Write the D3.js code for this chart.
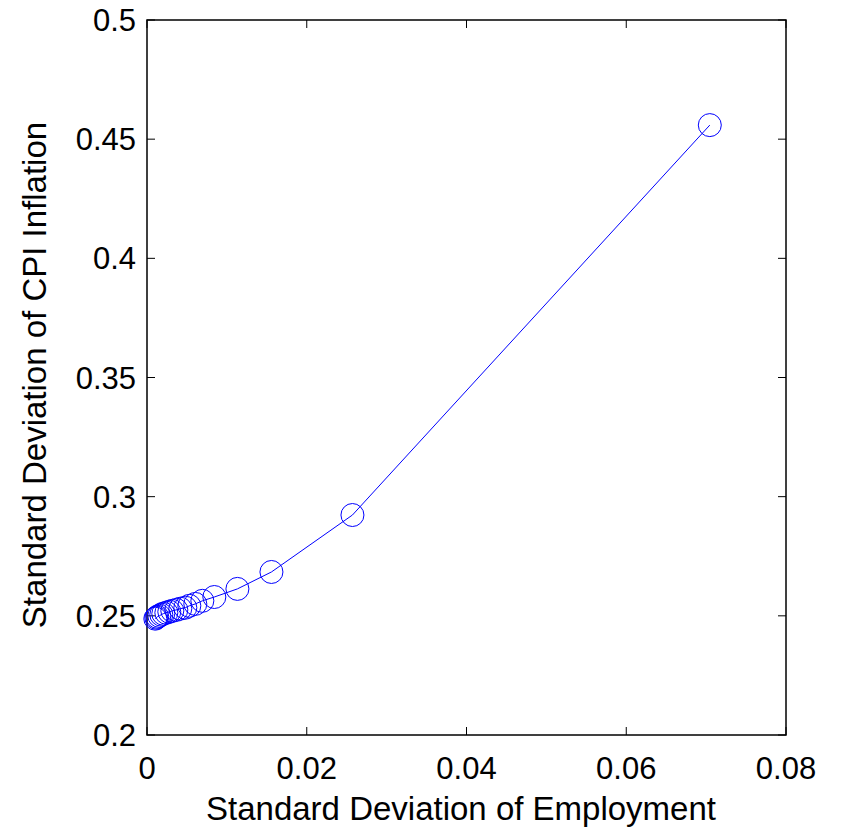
<!DOCTYPE html>
<html><head><meta charset="utf-8">
<script src="https://cdn.jsdelivr.net/npm/d3@7"></script>
<style>body{margin:0;background:#fff}svg{display:block}text{font-family:"Liberation Sans",Arial,Helvetica,sans-serif}</style>
</head><body><svg id="c" width="842" height="831"></svg>
<script>
const empStd = [0.07046,0.02572,0.01558,0.01132,0.00843,0.00693,0.00605,0.0053,0.0048,0.00417,0.00367,0.00317,0.00279,0.00242,0.00204,0.00179,0.00154,0.00129,0.00117,0.00104];
const cpiStd = [0.4559,0.2923,0.2684,0.2613,0.2579,0.2563,0.2550,0.2542,0.2534,0.2530,0.2525,0.2521,0.2517,0.2513,0.2509,0.2505,0.2500,0.2496,0.2492,0.2488];
const xTicks = [0,0.02,0.04,0.06,0.08];
const yTicks = [0.2,0.25,0.3,0.35,0.4,0.45,0.5];
const xLabel = "Standard Deviation of Employment";
const yLabel = "Standard Deviation of CPI Inflation";

const svg = d3.select("#c");
const L=147,R=786,T=20,B=735;
const x = d3.scaleLinear().domain([0,0.08]).range([L,R]);
const y = d3.scaleLinear().domain([0.2,0.5]).range([B,T]);
const tl=8, fs=31, tfs=33;

svg.append("rect").attr("x",L).attr("y",T).attr("width",R-L).attr("height",B-T)
  .attr("fill","none").attr("stroke","#000").attr("stroke-width",1.5);

const fmt = d=>String(+d.toFixed(2));
const gx = svg.append("g");
xTicks.forEach(t=>{
  gx.append("line").attr("x1",x(t)).attr("x2",x(t)).attr("y1",B).attr("y2",B-tl).attr("stroke","#000");
  gx.append("line").attr("x1",x(t)).attr("x2",x(t)).attr("y1",T).attr("y2",T+tl).attr("stroke","#000");
  gx.append("text").attr("x",x(t)).attr("y",779).attr("text-anchor","middle").attr("font-size",fs).text(fmt(t));
});
const gy = svg.append("g");
yTicks.forEach(t=>{
  gy.append("line").attr("x1",L).attr("x2",L+tl).attr("y1",y(t)).attr("y2",y(t)).attr("stroke","#000");
  gy.append("line").attr("x1",R).attr("x2",R-tl).attr("y1",y(t)).attr("y2",y(t)).attr("stroke","#000");
  gy.append("text").attr("x",136).attr("y",y(t)+11).attr("text-anchor","end").attr("font-size",fs).text(fmt(t));
});

const pts = empStd.map((v,i)=>[v,cpiStd[i]]);
svg.append("path").datum(pts).attr("fill","none").attr("stroke","#0000ff").attr("stroke-width",1)
  .attr("d",d3.line().x(d=>x(d[0])).y(d=>y(d[1])));
svg.append("g").selectAll("circle").data(pts).join("circle")
  .attr("cx",d=>x(d[0])).attr("cy",d=>y(d[1])).attr("r",11.5)
  .attr("fill","none").attr("stroke","#0000ff").attr("stroke-width",1);

svg.append("text").attr("x",461).attr("y",820).attr("text-anchor","middle").attr("font-size",tfs).text(xLabel);
svg.append("text").attr("transform",`translate(46,375) rotate(-90)`).attr("text-anchor","middle").attr("font-size",tfs).text(yLabel);
</script></body></html>
